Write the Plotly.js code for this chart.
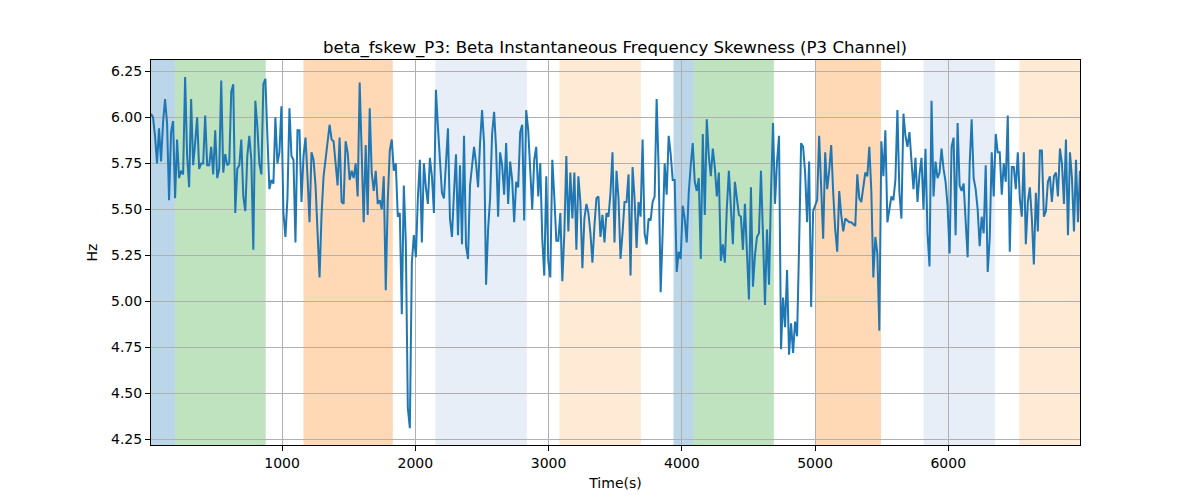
<!DOCTYPE html>
<html>
<head>
<meta charset="utf-8">
<script src="https://cdn.plot.ly/plotly-3.0.1.min.js"></script>
<style>
html,body{margin:0;padding:0;background:#fff;}
#chart{width:1200px;height:500px;}
</style>
</head>
<body>
<div id="chart"></div>
<script>
// Sampling of the time axis (seconds)
const timeStart = 16;
const timeStep = 15.06;

// Beta instantaneous frequency skewness values (Hz)
const skewValues = [
6.02,6.00,5.90,5.75,5.94,5.76,5.97,6.10,5.97,5.55,5.92,5.98,5.56,5.88,5.67,5.71,5.69,6.22,5.79,5.62,
6.10,5.74,5.86,6.00,5.72,5.75,5.75,6.01,5.74,5.74,5.84,5.69,5.93,5.67,5.72,6.20,5.70,5.80,5.74,5.75,
6.14,6.18,5.48,5.72,5.74,5.88,5.57,5.49,5.79,5.90,5.77,5.28,
6.09,5.95,5.75,5.69,6.18,6.21,5.90,5.61,5.66,5.64,6.00,5.75,5.81,6.06,5.48,5.35,5.56,6.05,5.79,5.77,
5.32,5.93,5.93,5.54,5.79,5.89,5.68,5.43,5.81,5.77,5.63,5.41,5.13,5.47,5.68,5.77,5.88,5.96,5.88,5.87,
5.75,5.63,5.89,5.54,5.53,5.87,5.81,5.66,5.71,5.67,5.75,
5.57,6.19,5.86,5.43,5.85,5.47,6.05,5.70,5.60,5.71,5.53,5.55,5.50,5.68,5.06,5.55,5.82,5.88,5.71,5.75,
5.46,5.48,4.93,5.63,5.32,4.42,4.31,5.21,5.36,5.24,5.56,5.77,5.32,5.75,5.62,5.53,5.78,5.68,5.48,6.15,
5.95,5.77,5.59,5.56,5.79,5.94,5.45,5.35,5.59,5.80,5.36,5.74,5.31,
5.90,5.30,5.23,5.63,5.72,5.84,5.75,5.62,5.86,6.04,5.86,5.09,5.39,5.56,5.91,6.03,5.83,5.46,5.81,5.74,
5.58,5.86,5.53,5.76,5.66,5.43,5.65,5.62,5.92,5.96,5.44,6.04,5.93,5.69,5.50,5.77,5.84,5.57,5.75,5.34,
5.14,5.68,5.22,5.13,5.77,5.57,5.33,5.33,5.48,5.11,5.37,5.79,
5.38,5.70,5.45,5.70,5.28,5.68,5.54,5.18,5.45,5.53,5.48,5.37,5.21,5.41,5.56,5.57,5.35,5.47,5.32,5.48,
5.46,5.59,5.81,5.32,5.71,5.56,5.23,5.37,5.54,5.54,5.69,5.14,5.73,5.56,5.29,5.54,5.46,5.88,5.37,5.31,
5.45,5.44,5.54,5.57,6.10,5.72,5.05,5.37,5.75,5.58,5.90,5.80,5.66,
5.66,5.16,5.27,5.23,5.52,5.45,5.32,5.59,5.74,5.86,5.65,5.60,5.67,5.23,5.91,5.47,5.99,5.79,5.68,5.83,
5.73,5.57,5.70,5.22,5.31,5.21,5.51,5.71,5.51,5.31,5.65,5.54,5.47,5.46,5.28,5.53,5.30,5.01,5.62,5.08,
5.25,5.35,5.37,5.71,5.36,4.98,5.39,5.09,5.59,5.97,5.53,5.76,5.90,
4.74,5.02,4.86,5.17,4.71,4.88,4.72,4.89,4.81,5.30,5.86,5.84,5.70,5.43,5.76,4.97,5.49,5.52,5.55,5.90,
5.59,5.34,5.81,5.61,5.71,5.85,5.59,5.39,5.27,5.60,5.47,5.38,5.45,5.44,5.43,5.43,5.42,5.41,5.69,5.56,
5.54,5.62,5.70,5.68,5.84,5.60,5.13,5.35,5.26,4.84,5.87,5.68,5.93,
5.43,5.49,5.57,5.55,5.66,6.04,5.59,5.45,6.02,5.90,5.84,5.92,5.77,5.61,5.78,5.54,5.69,5.78,5.50,5.83,
5.37,5.19,6.09,5.57,5.76,5.67,5.70,5.83,5.72,5.65,5.52,5.26,5.84,5.89,5.36,5.97,5.63,5.60,5.64,5.47,
5.24,5.74,5.99,5.67,5.61,5.50,5.30,5.46,5.37,5.74,5.16,5.34,
5.81,5.57,5.91,5.81,5.81,5.58,5.75,5.65,6.01,5.27,5.73,5.73,5.61,5.81,5.56,5.46,5.81,5.31,5.54,5.62,
5.45,5.20,5.59,5.38,5.82,5.82,5.46,5.49,5.65,5.68,5.54,5.68,5.70,5.57,5.83,5.75,5.53,5.88,5.36,5.81,
5.67,5.38,5.77,5.43,5.71
];

// Shaded segments (seconds) and their colours
const spanStarts = [16, 197, 1160, 2151, 3082, 3938, 4088, 5002, 5815, 6533];
const spanEnds   = [197, 877, 1831, 2837, 3693, 4088, 4691, 5495, 6351, 6991];
const spanColors = ['#1f77b4','#2ca02c','#ff7f0e','#aec7e8','#ffbb78',
                    '#1f77b4','#2ca02c','#ff7f0e','#aec7e8','#ffbb78'];

const yTickVals = [4.25,4.50,4.75,5.00,5.25,5.50,5.75,6.00,6.25];
const xTickVals = [1000,2000,3000,4000,5000,6000];

const xEnd = timeStart + timeStep * (skewValues.length - 1);

const shapes = spanStarts.map((s, i) => ({
  type: 'rect', xref: 'x', yref: 'paper',
  x0: s, x1: spanEnds[i], y0: 0, y1: 1,
  fillcolor: spanColors[i], opacity: 0.3,
  line: {width: 0}, layer: 'below'
}));

const trace = {
  type: 'scatter', mode: 'lines',
  x0: timeStart, dx: timeStep,
  y: skewValues,
  line: {color: '#1f77b4', width: 2},
  hoverinfo: 'skip'
};

const font = {family: 'DejaVu Sans, sans-serif', size: 14, color: '#000'};

const layout = {
  width: 1200, height: 500,
  margin: {l: 151, r: 120, t: 60, b: 55},
  paper_bgcolor: '#fff', plot_bgcolor: '#fff',
  font: font,
  showlegend: false,
  title: {
    text: 'beta_fskew_P3: Beta Instantaneous Frequency Skewness (P3 Channel)',
    font: {family: 'DejaVu Sans, sans-serif', size: 16.6, color: '#000'},
    x: 0.5125, xanchor: 'center', y: 0.905, yanchor: 'middle'
  },
  xaxis: {
    range: [timeStart, xEnd],
    tickvals: xTickVals, ticktext: xTickVals.map(String),
    ticks: 'outside', ticklen: 5, tickwidth: 1, tickcolor: '#000',
    showline: true, mirror: true, linecolor: '#000', linewidth: 1,
    showgrid: true, gridcolor: '#b0b0b0', gridwidth: 1,
    zeroline: false,
    tickfont: font,
    title: {text: 'Time(s)', font: font, standoff: 8}
  },
  yaxis: {
    range: [4.219, 6.312],
    tickvals: yTickVals, ticktext: yTickVals.map(v => v.toFixed(2)),
    ticks: 'outside', ticklen: 5, tickwidth: 1, tickcolor: '#000',
    showline: true, mirror: true, linecolor: '#000', linewidth: 1,
    showgrid: true, gridcolor: '#b0b0b0', gridwidth: 1,
    zeroline: false,
    tickfont: font,
    title: {text: 'Hz', font: font, standoff: 10}
  },
  shapes: shapes
};

Plotly.newPlot('chart', [trace], layout, {displayModeBar: false, staticPlot: true});
</script>
</body>
</html>
